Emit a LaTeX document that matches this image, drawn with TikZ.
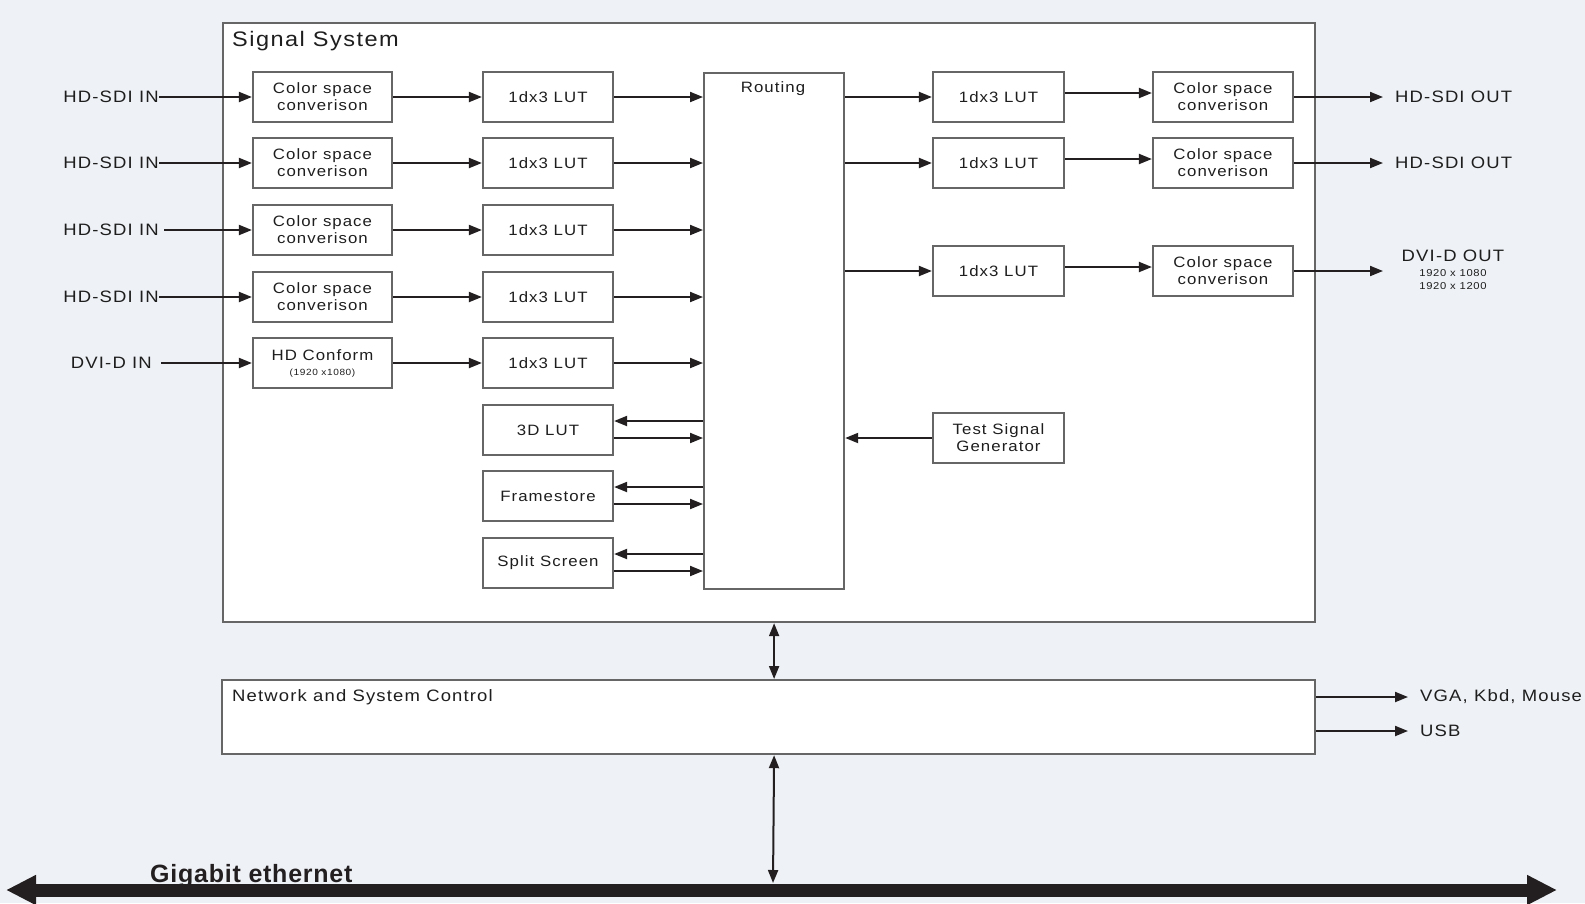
\documentclass[tikz,border=0pt]{standalone}
\usepackage{fontspec}
\setmainfont{Liberation Sans}
\newfontfamily\lsf{Liberation Sans}[FakeStretch=1.12,LetterSpace=7]
\newfontfamily\lsfb{Liberation Sans}[LetterSpace=3]
\usetikzlibrary{arrows.meta}
\definecolor{bg}{HTML}{EEF1F6}
\definecolor{bd}{HTML}{666666}
\definecolor{tx}{HTML}{1E1E1E}
\definecolor{ink}{HTML}{231F20}
\tikzset{
  box/.style={draw=bd, line width=2.2pt, fill=white, text=tx, align=center, inner sep=0pt,
    font=\lsf\fontsize{15}{17}\selectfont},
  csc/.style={box, minimum width=139, minimum height=50},
  lut/.style={box, minimum width=130, minimum height=50},
  lbl/.style={text=tx, inner sep=0pt, font=\lsf\fontsize{16.5}{18}\selectfont},
  small/.style={text=tx, inner sep=0pt, align=center, font=\lsf\fontsize{10}{13}\selectfont},
  tip/.tip={Triangle[length=13pt,width=10pt]},
  arr/.style={-tip, line width=2pt, draw=ink},
  darr/.style={tip-tip, line width=2pt, draw=ink},
}
\begin{document}
\begin{tikzpicture}[x=1pt,y=-1pt]
\useasboundingbox (0,0) rectangle (1585,903);
\fill[bg] (0,0) rectangle (1585,903);

% frames
\node[box, minimum width=1092, minimum height=599, anchor=north west] (ss) at (222,22) {};
\node[lbl, anchor=west, font=\lsf\fontsize{21}{24}\selectfont] (sst) at (232,41) {Signal System};
\node[box, minimum width=1093, minimum height=74, anchor=north west] (net) at (221,679) {};
\node[lbl, anchor=west, font=\lsf\fontsize{16.5}{18}\selectfont] (nett) at (232,697) {Network and System Control};

% left column
\node[csc] (c1) at (322.5,97) {Color space\\converison};
\node[csc] (c2) at (322.5,163) {Color space\\converison};
\node[csc] (c3) at (322.5,230) {Color space\\converison};
\node[csc] (c4) at (322.5,297) {Color space\\converison};
\node[csc] (c5) at (322.5,363) {HD Conform\\[-2pt]{\fontsize{9}{10}\selectfont (1920 x1080)}};

\node[lut] (l1) at (548,97) {1dx3 LUT};
\node[lut] (l2) at (548,163) {1dx3 LUT};
\node[lut] (l3) at (548,230) {1dx3 LUT};
\node[lut] (l4) at (548,297) {1dx3 LUT};
\node[lut] (l5) at (548,363) {1dx3 LUT};
\node[lut] (l6) at (548,430) {3D LUT};
\node[lut] (l7) at (548,496) {Framestore};
\node[lut] (l8) at (548,563) {Split Screen};

% routing
\node[box, minimum width=140, minimum height=516, anchor=north west] (r) at (703,72) {};
\node[lbl, font=\lsf\fontsize{15}{17}\selectfont] (rt) at (773,89) {Routing};

% right column
\node[lut, minimum width=131] (rl1) at (998.5,97) {1dx3 LUT};
\node[lut, minimum width=131] (rl2) at (998.5,163) {1dx3 LUT};
\node[lut, minimum width=131] (rl3) at (998.5,271) {1dx3 LUT};
\node[lut, minimum width=131] (tsg) at (998.5,438) {Test Signal\\Generator};
\node[csc, minimum width=140] (rc1) at (1223,97) {Color space\\converison};
\node[csc, minimum width=140] (rc2) at (1223,163) {Color space\\converison};
\node[csc, minimum width=140] (rc3) at (1223,271) {Color space\\converison};

% input labels
\node[lbl, anchor=east] (in1) at (159,97) {HD-SDI IN};
\node[lbl, anchor=east] (in2) at (159,163) {HD-SDI IN};
\node[lbl, anchor=east] (in3) at (159,230) {HD-SDI IN};
\node[lbl, anchor=east] (in4) at (159,297) {HD-SDI IN};
\node[lbl, anchor=east] (in5) at (152,363) {DVI-D IN};

% output labels
\node[lbl, anchor=west] (o1) at (1395,97) {HD-SDI OUT};
\node[lbl, anchor=west] (o2) at (1395,163) {HD-SDI OUT};
\node[lbl] (o3) at (1453,256) {DVI-D OUT};
\node[small] (o3s) at (1453,280) {1920 x 1080\\1920 x 1200};
\coordinate (o3in) at (1383,271);
\node[lbl, anchor=west] (vgal) at (1420,697) {VGA, Kbd, Mouse};
\node[lbl, anchor=west] (usbl) at (1420,731) {USB};
\coordinate (vga) at (1408,697);
\coordinate (usb) at (1408,731);

% input arrows
\draw[arr] (in1.east) -- (c1.west);
\draw[arr] (in2.east) -- (c2.west);
\draw[arr, shorten <=5pt] (in3.east) -- (c3.west);
\draw[arr] (in4.east) -- (c4.west);
\draw[arr, shorten <=9pt] (in5.east) -- (c5.west);

\foreach \i in {1,...,5} {
  \draw[arr] (c\i.east) -- (l\i.west);
  \draw[arr] (l\i.east) -- (l\i.east -| r.west);
}
\foreach \i in {6,7,8} {
  \draw[arr] ([yshift=9pt]l\i.east -| r.west) -- ([yshift=9pt]l\i.east);
  \draw[arr] ([yshift=-8pt]l\i.east) -- ([yshift=-8pt]l\i.east -| r.west);
}

% right arrows
\foreach \i in {1,2,3} {
  \draw[arr] (r.east |- rl\i.west) -- (rl\i.west);
  \draw[arr] ([yshift=4pt]rl\i.east) -- ([yshift=4pt]rc\i.west);
}
\draw[arr, shorten >=12pt] (rc1.east) -- (o1.west);
\draw[arr, shorten >=12pt] (rc2.east) -- (o2.west);
\draw[arr] (rc3.east |- o3in) -- (o3in);
\draw[arr] (tsg.west) -- (tsg.west -| r.east);

% system arrows
\draw[darr] (r.south |- ss.south) -- (r.south |- net.north);
\coordinate (busT) at (773,883);
\draw[darr] (r.south |- net.south) -- (busT);
\draw[arr] (net.east |- vga) -- (vga);
\draw[arr] (net.east |- usb) -- (usb);

% ethernet
\coordinate (ethL) at (6,890);
\coordinate (ethR) at (1557,890);
\draw[draw=ink, line width=13pt, {Triangle[length=30pt,width=28pt]}-{Triangle[length=30pt,width=28pt]}] (ethL) -- (ethR);
\node[anchor=base west, inner sep=0pt, text=ink, font=\lsfb\bfseries\fontsize{25}{28}\selectfont] (gb) at (150,882) {Gigabit ethernet};
\end{tikzpicture}
\end{document}
